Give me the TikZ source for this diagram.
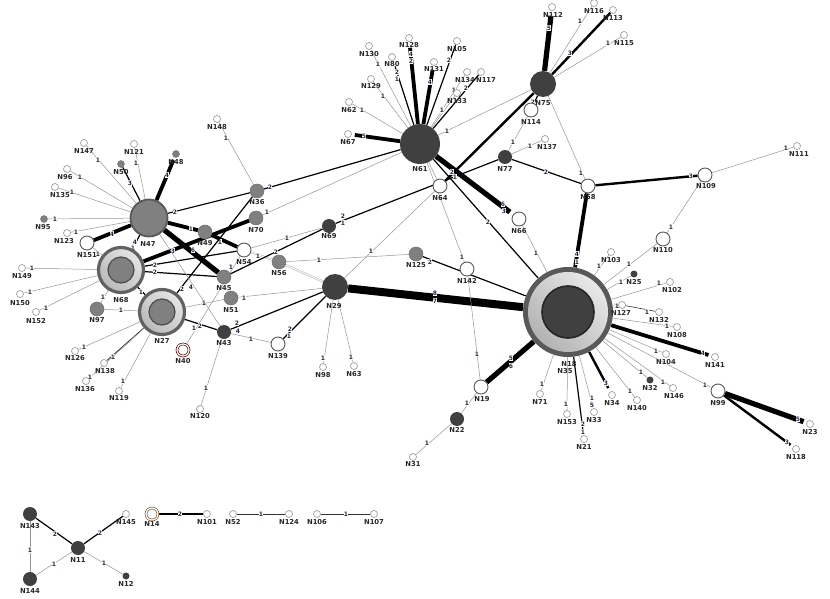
\documentclass[tikz,border=0pt]{standalone}
\usepackage{fontspec}
\setmainfont{DejaVu Sans}
\pgfdeclarelayer{edges}
\pgfsetlayers{edges,main}
\definecolor{gnode}{HTML}{808080}
\definecolor{dnode}{HTML}{404040}
\definecolor{labc}{HTML}{1E2A45}
\definecolor{thin}{HTML}{959595}
\tikzset{
 nlab/.style={font=\fontsize{6.8}{7}\selectfont\bfseries, text=black!85, inner sep=0},
 elab/.style={font=\fontsize{6}{6.5}\selectfont\bfseries, text=labc, fill=white, inner sep=0.4pt},
 wS/.style={circle, draw=gray!75, fill=white, line width=0.7pt, minimum size=7pt, inner sep=0},
 wM/.style={circle, draw=black!65, fill=white, line width=0.9pt, minimum size=14pt, inner sep=0},
 gS/.style={circle, fill=gnode, draw=gnode!85!black, line width=0.4pt, minimum size=7pt, inner sep=0},
 gM/.style={circle, fill=gnode, draw=gnode!85!black, line width=0.5pt, minimum size=14pt, inner sep=0},
 dS/.style={circle, fill=dnode, minimum size=7pt, inner sep=0},
 dM/.style={circle, fill=dnode, minimum size=14pt, inner sep=0},
 dL/.style={circle, fill=dnode, minimum size=26pt, inner sep=0},
 dXL/.style={circle, fill=dnode, minimum size=40pt, inner sep=0},
 dbl/.style={circle, draw=#1, fill=white, line width=0.7pt, minimum size=12pt, inner sep=0, double=white, double distance=1.2pt},
 ringout/.style={circle, draw=black!62, line width=3.2pt, minimum size=45pt, inner sep=0, shading=axis, top color=gray!20, bottom color=gray!55, shading angle=-45},
 ringin/.style={circle, fill=gnode, draw=black!70, line width=1.2pt, minimum size=26pt, inner sep=0},
 e1/.style={draw=thin, line width=0.5pt},
 eA/.style={draw=black, line width=1.2pt},
 eB/.style={draw=black, line width=2.4pt},
 eC/.style={draw=black, line width=3.8pt},
 eD/.style={draw=black, line width=5.2pt},
 eE/.style={draw=black, line width=8pt},
 eW/.style={draw=gray!65, line width=0.5pt, double=white, double distance=1pt},
}
\newcounter{elc}
\newcommand\hap[4]{\node[#1] (#2) at (#3) {}; \node[nlab] (#2l) at (#4) {#2};}
\newcommand\elb[2]{\stepcounter{elc}\node[elab] (el\theelc) at (#1) {#2};}
\begin{document}
\begin{tikzpicture}[x=1pt,y=-1pt]
\useasboundingbox (0,0) rectangle (830,599);
% ---------------- big nodes
\node[ringout] (N68) at (121,270) {};
\node[ringin] (N68c) at (N68) {};
\node[nlab] (N68l) at (121,300) {N68};
\node[ringout] (N27) at (162,312) {};
\node[ringin] (N27c) at (N27) {};
\node[nlab] (N27l) at (162,341) {N27};
\node[circle, fill=gnode, draw=black!65, line width=1.8pt, minimum size=37pt, inner sep=0] (N47) at (149,218) {};
\node[nlab] (N47l) at (148,244) {N47};
\node[circle, minimum size=90pt, inner sep=0, fill=black!65] (N18) at (568,312) {};
\node[circle, minimum size=80pt, inner sep=0, shading=axis, top color=gray!18, bottom color=gray!60, shading angle=-45] (N18b) at (N18) {};
\node[circle, minimum size=52pt, inner sep=0, fill=dnode, draw=black!85, line width=1.6pt] (N18c) at (N18) {};
\node[nlab] (N18l) at (569,364) {N18};
\node[nlab] (N35l) at (565,371) {N35};
\hap{dXL}{N61}{420,144}{420,169}
\hap{dL}{N29}{335,287}{334,306}
\hap{dL}{N75}{543,84}{543,103}
% ---------------- left cluster
\hap{wS}{N148}{217,119}{217,127}
\hap{wS}{N147}{84,143}{84,151}
\hap{wS}{N121}{134,144}{134,152}
\hap{gS}{N50}{121,164}{121,172}
\hap{gS}{N48}{176,154}{176,162}
\hap{wS}{N96}{67,169}{65,177}
\hap{wS}{N135}{55,187}{60,195}
\hap{gS}{N95}{44,219}{43,227}
\hap{wS}{N123}{67,233}{64,241}
\hap{wM}{N151}{87,243}{87,255}
\hap{wS}{N149}{22,268}{22,276}
\hap{wS}{N150}{20,294}{20,303}
\hap{wS}{N152}{36,312}{36,321}
\hap{gM}{N97}{97,309}{97,320}
\hap{wS}{N126}{75,351}{75,358}
\hap{wS}{N138}{104,363}{105,371}
\hap{wS}{N136}{86,381}{85,389}
\hap{wS}{N119}{119,391}{119,398}
\hap{dbl=red!40!black}{N40}{183,350}{183,361}
\hap{wS}{N120}{200,409}{200,416}
\hap{dM}{N43}{224,332}{224,343}
\hap{gM}{N45}{224,277}{224,288}
\hap{gM}{N51}{231,298}{231,310}
\hap{wM}{N54}{244,250}{244,262}
\hap{gM}{N56}{279,262}{279,273}
\hap{gM}{N36}{257,191}{257,202}
\hap{gM}{N70}{256,218}{256,230}
\hap{gM}{N49}{205,232}{205,243}
\hap{dM}{N69}{329,226}{329,236}
\hap{wM}{N139}{278,344}{278,356}
\hap{wS}{N98}{323,367}{323,375}
\hap{wS}{N63}{354,366}{354,374}
% ---------------- N61 cluster
\hap{wS}{N130}{369,46}{369,54}
\hap{wS}{N128}{409,38}{409,45}
\hap{wS}{N105}{457,41}{457,49}
\hap{wS}{N80}{392,57}{392,64}
\hap{wS}{N131}{434,62}{434,69}
\hap{wS}{N134}{467,72}{465,80}
\hap{wS}{N117}{481,72}{486,80}
\hap{wS}{N133}{457,93}{457,101}
\hap{wS}{N129}{371,79}{371,86}
\hap{wS}{N62}{349,102}{349,110}
\hap{wS}{N67}{348,134}{348,142}
% ---------------- N75 cluster
\hap{wS}{N112}{552,7}{553,15}
\hap{wS}{N116}{594,3}{594,11}
\hap{wS}{N113}{613,10}{613,18}
\hap{wS}{N115}{624,35}{624,43}
\hap{wM}{N114}{531,110}{531,122}
\hap{wS}{N137}{545,139}{547,147}
\hap{dM}{N77}{505,157}{505,169}
\hap{wM}{N66}{519,219}{519,231}
\hap{wM}{N64}{440,186}{440,198}
\hap{wM}{N142}{467,269}{467,281}
\hap{gM}{N125}{416,254}{416,265}
\hap{wM}{N58}{588,186}{588,197}
\hap{wM}{N109}{705,175}{706,186}
\hap{wS}{N111}{797,146}{799,154}
\hap{wM}{N110}{663,239}{663,250}
% ---------------- N18 satellites
\hap{wS}{N103}{611,252}{611,260}
\hap{dS}{N25}{634,274}{634,282}
\hap{wS}{N102}{670,282}{672,290}
\hap{wS}{N127}{622,305}{621,313}
\hap{wS}{N132}{659,312}{659,320}
\hap{wS}{N108}{677,327}{677,335}
\hap{wS}{N141}{715,357}{715,365}
\hap{wS}{N104}{666,354}{666,362}
\hap{dS}{N32}{650,380}{650,388}
\hap{wS}{N146}{673,388}{674,396}
\hap{wM}{N99}{718,391}{718,403}
\hap{wS}{N23}{810,424}{810,432}
\hap{wS}{N118}{796,449}{796,457}
\hap{wS}{N140}{637,400}{637,408}
\hap{wS}{N34}{612,395}{612,403}
\hap{wS}{N33}{594,412}{594,420}
\hap{wS}{N21}{584,439}{584,447}
\hap{wS}{N153}{567,414}{567,422}
\hap{wS}{N71}{540,394}{540,402}
\hap{wM}{N19}{481,387}{482,399}
\hap{dM}{N22}{457,419}{457,430}
\hap{wS}{N31}{413,457}{413,464}
% ---------------- bottom components
\hap{dM}{N143}{30,514}{30,526}
\hap{dM}{N11}{78,548}{78,560}
\hap{dM}{N144}{30,579}{30,591}
\hap{wS}{N145}{126,514}{126,522}
\hap{dS}{N12}{126,576}{126,584}
\hap{dbl=brown!70!black}{N14}{152,514}{152,524}
\hap{wS}{N101}{207,514}{207,522}
\hap{wS}{N52}{233,514}{233,522}
\hap{wS}{N124}{289,514}{289,522}
\hap{wS}{N106}{317,514}{317,522}
\hap{wS}{N107}{374,514}{374,522}

\begin{pgfonlayer}{edges}
% N47 star
\draw[e1] (N36)--(N148); \elb{226,138}{1}
\draw[e1] (N47)--(N147); \elb{98,160}{1}
\draw[e1] (N47)--(N121); \elb{136,163}{1}
\draw[eA] (N47)--(N50); \elb{130,183}{3}
\draw[eC,shorten >=3pt] (N47)--(N48); \elb{167,175}{4}
\draw[e1] (N47)--(N96); \elb{80,177}{1}
\draw[e1] (N47)--(N135); \elb{72,192}{1}
\draw[e1] (N47)--(N95); \elb{55,219}{1}
\draw[e1] (N47)--(N123); \elb{76,232}{1}
\draw[eC] (N47)--(N151); \elb{112,234}{4}
\draw[eA] (N47)--(N36); \elb{175,212}{2}
\draw[eA] (N36)--(N61); \elb{270,187}{2}
\draw[eA] (N47)--(N68); \elb{135,242}{4} \elb{133,248}{1}
\draw[eC] (N47)--(N49); \elb{191,229}{1}
\draw[eC] (N49)--(N54); \elb{220,242}{1}
\draw[eD] (N47)--(N45); \elb{193,250}{6}
\draw[eC] (N70)--(N68); \elb{173,251}{3}
\draw[eA] (N68)--(N54); \elb{155,265}{2}
\draw[eA] (N68)--(N45); \elb{155,272}{2}
\draw[eA] (N68)--(N27); \elb{141,292}{1}
\draw[e1] (N68)--(N149); \elb{32,268}{1}
\draw[e1] (N68)--(N150); \elb{30,292}{1}
\draw[e1] (N68)--(N152); \elb{46,308}{1}
\draw[e1] (N68)--(N97); \elb{103,297}{1}
\draw[e1] (N68)--(N151); \elb{98,254}{1}
\draw[e1] (N27)--(N97); \elb{121,310}{1}
\draw[e1] (N27)--(N126); \elb{84,347}{1}
\draw[draw=black!80, line width=0.8pt] (N27)--(N138); \elb{113,357}{1}
\draw[e1] (N27)--(N136); \elb{90,377}{1}
\draw[e1] (N27)--(N119); \elb{123,381}{1}
\draw[eA] (N27)--(N43); \elb{200,326}{2}
\draw[e1] (N27)--(N51); \elb{204,303}{1}
\draw[eA] (N36)--(N27); \elb{182,289}{2} \elb{191,287}{4}
\draw[e1] (N43)--(N120); \elb{206,388}{1}
\draw[e1] (N43)--(N139); \elb{251,339}{1}
\draw[eA] (N43)--(N29); \elb{237,323}{2} \elb{238,331}{4}
\draw[eA] (N139)--(N29); \elb{290,329}{2} \elb{289,336}{1}
\draw[e1] (N29)--(N98); \elb{323,358}{1}
\draw[e1] (N29)--(N63); \elb{351,357}{1}
\draw[e1] (N29)--(N51); \elb{244,298}{1}
\draw[eW] (N54)--(N56); \elb{258,256}{1}
\draw[eW] (N56)--(N29);
\draw[e1] (N56)--(N125); \elb{319,260}{1}
\draw[e1] (N54)--(N69); \elb{287,238}{1}
\draw[eA] (N45)--(N69); \elb{231,267}{1} \elb{276,252}{2}
\draw[eA] (N69)--(N77); \elb{343,216}{2} \elb{343,223}{1}
\draw[e1] (N70)--(N61); \elb{267,212}{1}
\draw[e1] (N40)--(N54); \elb{194,328}{1}
\draw[e1] (N47)--(N43);
\draw[e1] (N29)--(N64); \elb{371,251}{1}
\draw[eE] (N29)--(N18); \elb{435,293}{8} \elb{435,301}{7}
\draw[eA] (N125)--(N18); \elb{430,262}{2}
\draw[e1] (N61)--(N142); \elb{462,257}{1}
\draw[e1] (N142)--(N19); \elb{477,354}{1}
\draw[eD] (N19)--(N18); \elb{511,358}{5} \elb{511,366}{6}
\draw[e1] (N19)--(N22); \elb{467,403}{1}
\draw[e1] (N22)--(N31); \elb{427,443}{1}
% N61 star
\draw[e1] (N61)--(N130); \elb{378,64}{1}
\draw[eC,shorten >=6pt] (N61)--(N128); \elb{411,54}{4} \elb{411,61}{2}
\draw[eA,shorten >=6pt] (N61)--(N80); \elb{397,72}{2} \elb{397,79}{1}
\draw[eC,shorten >=4pt] (N61)--(N131); \elb{430,82}{4}
\draw[eA] (N61)--(N105); \elb{449,60}{2}
\draw[e1] (N61)--(N134); \elb{454,90}{1}
\draw[eA] (N61)--(N117); \elb{466,88}{2}
\draw[e1] (N61)--(N133); \elb{442,110}{1}
\draw[e1] (N61)--(N129); \elb{383,96}{1}
\draw[e1] (N61)--(N62); \elb{362,110}{1}
\draw[eC,shorten >=3pt] (N61)--(N67); \elb{364,136}{5}
\draw[e1] (N61)--(N75); \elb{447,131}{1}
\draw[eD,shorten >=4pt] (N61)--(N66); \elb{503,204}{6} \elb{504,211}{3}
\draw[eA] (N61)--(N18); \elb{488,222}{2}
\draw[e1] (N61)--(N64);
\draw[eB] (N75)--(N64); \elb{452,172}{2} \elb{455,177}{1}
% N75 star
\draw[eD,shorten >=5pt] (N75)--(N112); \elb{549,28}{5}
\draw[e1] (N75)--(N116); \elb{580,21}{1}
\draw[eB] (N75)--(N113); \elb{570,53}{3}
\draw[e1] (N75)--(N115); \elb{608,43}{1}
\draw[eA] (N75)--(N114); \elb{533,102}{2}
\draw[e1] (N77)--(N114); \elb{513,142}{1}
\draw[e1] (N77)--(N137); \elb{530,146}{1}
\draw[eA] (N77)--(N58); \elb{546,172}{2}
\draw[e1] (N75)--(N58); \elb{581,173}{1}
\draw[eC] (N58)--(N18); \elb{577,254}{4} \elb{577,262}{1}
\draw[eB] (N58)--(N109); \elb{691,176}{3}
\draw[e1] (N109)--(N111); \elb{786,148}{1}
\draw[e1] (N109)--(N110); \elb{671,227}{1}
% N18 star
\draw[e1] (N110)--(N18); \elb{629,264}{1}
\draw[e1] (N18)--(N66); \elb{536,253}{1}
\draw[e1] (N18)--(N103); \elb{599,266}{1}
\draw[e1] (N18)--(N25); \elb{621,282}{1}
\draw[e1] (N18)--(N102); \elb{659,283}{1}
\draw[e1] (N18)--(N127); \elb{617,306}{1}
\draw[draw=black!80, line width=0.6pt] (N127)--(N132); \elb{647,312}{1}
\draw[e1] (N18)--(N108); \elb{667,326}{1}
\draw[eC,shorten >=3pt] (N18)--(N141); \elb{703,353}{4}
\draw[e1] (N18)--(N104); \elb{656,351}{1}
\draw[e1] (N18)--(N99); \elb{705,385}{1}
\draw[e1] (N18)--(N146); \elb{663,382}{1}
\draw[e1] (N18)--(N32); \elb{641,372}{1}
\draw[e1] (N18)--(N140); \elb{630,391}{1}
\draw[eB,shorten >=4pt] (N18)--(N34); \elb{606,383}{3}
\draw[e1] (N18)--(N33); \elb{592,398}{1} \elb{592,405}{5}
\draw[eA,shorten >=4pt] (N18)--(N21); \elb{583,424}{2} \elb{583,432}{1}
\draw[e1] (N18)--(N153); \elb{566,404}{1}
\draw[e1] (N18)--(N71); \elb{542,384}{1}
\draw[eD,shorten >=3pt] (N99)--(N23); \elb{798,419}{5}
\draw[eB,shorten >=3pt] (N99)--(N118); \elb{787,442}{3}
% bottom
\draw[eA] (N143)--(N11); \elb{55,534}{2}
\draw[eA] (N145)--(N11); \elb{100,533}{2}
\draw[e1] (N143)--(N144); \elb{30,550}{1}
\draw[e1] (N144)--(N11); \elb{54,564}{1}
\draw[e1] (N11)--(N12); \elb{104,563}{1}
\draw[eA] (N14)--(N101); \elb{180,514}{2}
\draw[draw=black!80, line width=0.6pt] (N52)--(N124); \elb{261,514}{1}
\draw[draw=black!80, line width=0.6pt] (N106)--(N107); \elb{346,514}{1}
\end{pgfonlayer}
\end{tikzpicture}
\end{document}
